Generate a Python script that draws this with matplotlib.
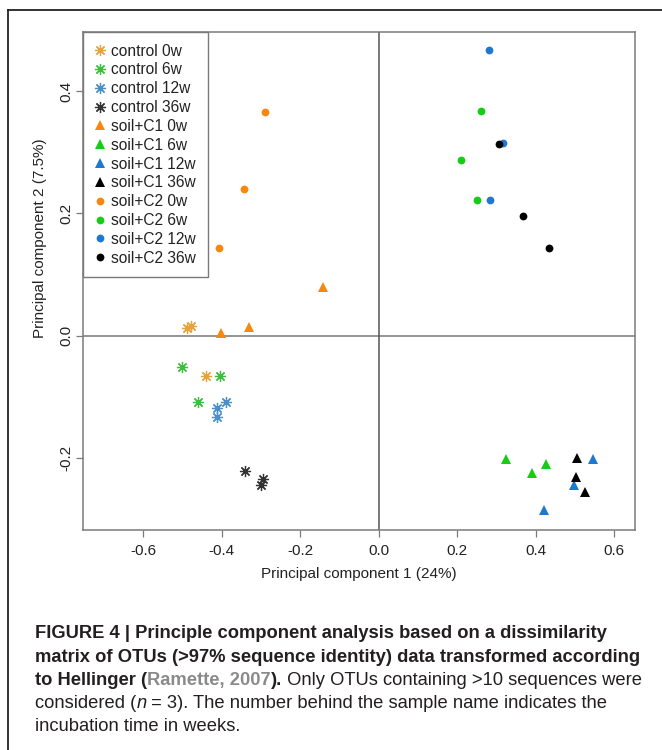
import matplotlib
matplotlib.use('Agg')
import matplotlib.pyplot as plt
from matplotlib import font_manager
from matplotlib.lines import Line2D

# PCA scores (PC1, PC2) for each sample group, three replicates each
control_0w_x = [-0.489, -0.478, -0.440]
control_0w_y = [0.013, 0.016, -0.066]
control_6w_x = [-0.501, -0.404, -0.460]
control_6w_y = [-0.051, -0.066, -0.108]
control_12w_x = [-0.389, -0.413, -0.411]
control_12w_y = [-0.108, -0.118, -0.133]
control_36w_x = [-0.341, -0.294, -0.300]
control_36w_y = [-0.221, -0.235, -0.244]

c1_0w_x = [-0.402, -0.330, -0.141]
c1_0w_y = [0.004, 0.015, 0.079]
c1_6w_x = [0.323, 0.425, 0.390]
c1_6w_y = [-0.202, -0.210, -0.225]
c1_12w_x = [0.546, 0.498, 0.421]
c1_12w_y = [-0.201, -0.245, -0.286]
c1_36w_x = [0.505, 0.502, 0.525]
c1_36w_y = [-0.200, -0.231, -0.256]

c2_0w_x = [-0.291, -0.344, -0.407]
c2_0w_y = [0.366, 0.240, 0.144]
c2_6w_x = [0.260, 0.209, 0.249]
c2_6w_y = [0.368, 0.288, 0.222]
c2_12w_x = [0.280, 0.317, 0.283]
c2_12w_y = [0.467, 0.316, 0.222]
c2_36w_x = [0.306, 0.367, 0.434]
c2_36w_y = [0.314, 0.196, 0.143]

labels = ['control 0w', 'control 6w', 'control 12w', 'control 36w',
          'soil+C1 0w', 'soil+C1 6w', 'soil+C1 12w', 'soil+C1 36w',
          'soil+C2 0w', 'soil+C2 6w', 'soil+C2 12w', 'soil+C2 36w']

orange = '#F8870E'
green = '#16CC16'
blue = '#1F78D0'
black = '#000000'
ctrl_cols = ['#E8A23C', '#3CBF3C', '#4A8FC8', '#333333']

groups = [
    (control_0w_x, control_0w_y, ctrl_cols[0], 'ast'),
    (control_6w_x, control_6w_y, ctrl_cols[1], 'ast'),
    (control_12w_x, control_12w_y, ctrl_cols[2], 'ast'),
    (control_36w_x, control_36w_y, ctrl_cols[3], 'ast'),
    (c1_0w_x, c1_0w_y, orange, '^'),
    (c1_6w_x, c1_6w_y, green, '^'),
    (c1_12w_x, c1_12w_y, blue, '^'),
    (c1_36w_x, c1_36w_y, black, '^'),
    (c2_0w_x, c2_0w_y, orange, 'o'),
    (c2_6w_x, c2_6w_y, green, 'o'),
    (c2_12w_x, c2_12w_y, blue, 'o'),
    (c2_36w_x, c2_36w_y, black, 'o'),
]

names = {f.name for f in font_manager.fontManager.ttflist}
plt.rcParams['font.family'] = ['Liberation Sans', 'DejaVu Sans']
cap_font = 'Liberation Sans Narrow' if 'Liberation Sans Narrow' in names else 'Liberation Sans'

W, H = 662, 750
fig = plt.figure(figsize=(W / 100, H / 100), dpi=100)

# outer frame (left and top edges)
fig.add_artist(Line2D([8 / W, 8 / W], [0, 1 - 10 / H], color='#222222', lw=1.3, transform=fig.transFigure))
fig.add_artist(Line2D([8 / W, 1], [1 - 10 / H, 1 - 10 / H], color='#222222', lw=1.3, transform=fig.transFigure))

ax = fig.add_axes([83 / W, 1 - 530 / H, (635 - 83) / W, (530 - 32) / H])
ax.set_xlim(-0.7536, 0.6527)
ax.set_ylim(-0.318, 0.497)

ax.axhline(0, color='#777777', lw=1.1, zorder=1)
ax.axvline(0, color='#555555', lw=1.1, zorder=1)

handles = []
for (xs, ys, col, m), lab in zip(groups, labels):
    if m == 'ast':
        h, = ax.plot(xs, ys, ls='none', marker=(8, 2, 0), ms=8, mec=col, mew=0.9, color=col, label=lab, zorder=3)
    elif m == '^':
        h, = ax.plot(xs, ys, ls='none', marker='^', ms=6.5, mfc=col, mec=col, mew=0, label=lab, zorder=3)
    else:
        h, = ax.plot(xs, ys, ls='none', marker='o', ms=5.6, mfc=col, mec=col, mew=0, label=lab, zorder=3)
    handles.append(h)

for s in ax.spines.values():
    s.set_color('#7a7a7a')
    s.set_linewidth(1.1)

ax.set_xticks([-0.6, -0.4, -0.2, 0.0, 0.2, 0.4, 0.6])
ax.set_xticklabels(['-0.6', '-0.4', '-0.2', '0.0', '0.2', '0.4', '0.6'])
ax.set_yticks([-0.2, 0.0, 0.2, 0.4])
ax.set_yticklabels(['-0.2', '0.0', '0.2', '0.4'], rotation=90, va='center')
ax.tick_params(length=5, width=0.9, color='#7a7a7a', labelsize=11, labelcolor='#222222')
ax.tick_params(axis='x', pad=5)
ax.tick_params(axis='y', pad=2)

ax.set_xlabel('Principal component 1 (24%)', fontsize=11, color='#222222')
ax.set_ylabel('Principal component 2 (7.5%)', fontsize=11, color='#222222')
ax.xaxis.set_label_coords(0.5, -0.074)
ax.yaxis.set_label_coords(-0.066, 0.586)

leg = ax.legend(handles=handles, loc='upper left', borderaxespad=0, fontsize=11.2,
                frameon=True, fancybox=False, framealpha=1, edgecolor='#7a7a7a',
                handlelength=0.7, handletextpad=0.35, labelspacing=0.245,
                borderpad=0.75, labelcolor='#222222')
leg.get_frame().set_linewidth(1.0)

# caption, assembled piece by piece so bold/grey/italic runs line up
renderer = fig.canvas.get_renderer()
text_col = '#231F20'


def run(x, y, s, size, **kw):
    t = fig.text(x / W, 1 - y / H, s, fontsize=size, family=cap_font, color=kw.pop('color', text_col),
                 va='baseline', ha='left', **kw)
    bb = t.get_window_extent(renderer)
    return x + bb.width


probe = fig.text(0, 0, 'matrix of OTUs (>97% sequence identity) data transformed according',
                 fontsize=10, family=cap_font, weight='bold')
w10 = probe.get_window_extent(renderer).width
probe.remove()
size = 10 * 605 / w10

x0 = 35
lines_y = [638, 662, 685, 708, 731]
run(x0, lines_y[0], 'FIGURE 4 | Principle component analysis based on a dissimilarity', size, weight='bold')
run(x0, lines_y[1], 'matrix of OTUs (>97% sequence identity) data transformed according', size, weight='bold')
x = run(x0, lines_y[2], 'to Hellinger (', size, weight='bold')
x = run(x, lines_y[2], 'Ramette, 2007', size, weight='bold', color='#8a8a8a')
x = run(x, lines_y[2], ').', size, weight='bold')
run(x, lines_y[2], ' Only OTUs containing >10 sequences were', size)
x = run(x0, lines_y[3], 'considered (', size)
x = run(x, lines_y[3], 'n', size, style='italic')
run(x, lines_y[3], ' = 3). The number behind the sample name indicates the', size)
run(x0, lines_y[4], 'incubation time in weeks.', size)

fig.savefig('out.png', dpi=100)
